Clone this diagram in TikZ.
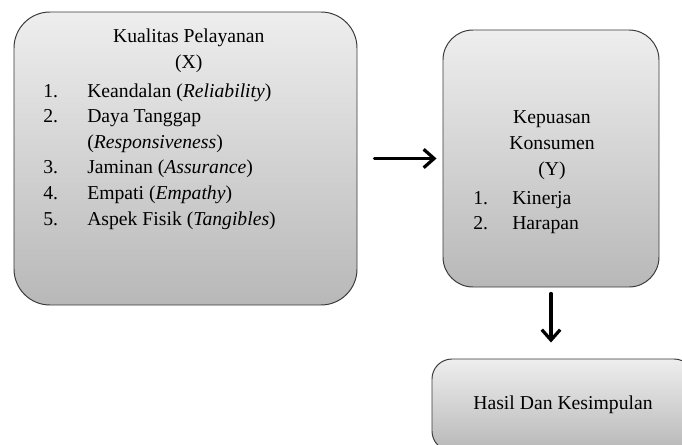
\documentclass[tikz,border=0pt]{standalone}
\usepackage{fontspec}
\setmainfont{Liberation Serif}
\usetikzlibrary{arrows.meta}
\definecolor{ink}{HTML}{3A3A3A}
\definecolor{boxtop}{HTML}{EEEEEE}
\definecolor{boxbottom}{HTML}{B8B8B8}

\begin{document}
\begin{tikzpicture}[
  x=1cm,y=1cm,
  line cap=round,line join=round,
  card/.style={draw=ink, line width=.7pt, top color=boxtop, bottom color=boxbottom},
  txt/.style={font=\fontsize{14}{18.2}\selectfont, text=black, inner sep=0pt},
  flow/.style={draw=black, line width=2.3pt, -{Straight Barb[length=2.6mm,width=4.6mm]}}
]
\clip (0,0) rectangle (17.05,11.1);

% independent variable (X)
\node[card, rounded corners=.9cm, minimum width=8.575cm, minimum height=7.325cm] (kualitas) at (4.6375,7.1375) {};
\node[txt, align=center] (kualitastitle) at (4.72,9.83) {Kualitas Pelayanan\\(X)};
\node[txt, anchor=west] (kualitaslist) at (1.075,7.20) {%
  \begin{tabular}{@{}p{1.1cm}@{}l@{}}
  1. & Keandalan (\textit{Reliability})\\
  2. & Daya Tanggap\\
     & (\textit{Responsiveness})\\
  3. & Jaminan (\textit{Assurance})\\
  4. & Empati (\textit{Empathy})\\
  5. & Aspek Fisik (\textit{Tangibles})
  \end{tabular}};

% dependent variable (Y)
\node[card, rounded corners=.75cm, minimum width=5.4cm, minimum height=6.425cm] (kepuasan) at (13.775,7.1375) {};
\node[txt, align=center] (kepuasantitle) at (13.80,7.47) {Kepuasan\\Konsumen\\(Y)};
\node[txt, anchor=west] (kepuasanlist) at (11.825,5.80) {%
  \begin{tabular}{@{}p{.975cm}@{}l@{}}
  1. & Kinerja\\
  2. & Harapan
  \end{tabular}};

% outcome box, cut by the page edge
\node[card, rounded corners=.5cm, minimum width=6.55cm, minimum height=2.3cm] (hasil) at (14.075,.975) {};
\node[txt] (hasiltext) at (14.075,.975) {Hasil Dan Kesimpulan};

% connectors
\draw[flow, shorten <=.425cm, shorten >=.15cm] (kualitas.east) -- (kepuasan.west);
\draw[flow, shorten <=.15cm, shorten >=.4cm] (kepuasan.south) -- (kepuasan.south |- hasil.north);

\end{tikzpicture}
\end{document}
